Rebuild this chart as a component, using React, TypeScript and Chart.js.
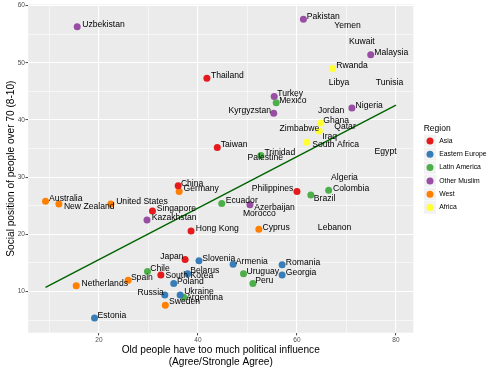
import React, { useEffect, useRef } from "react";
import { Chart, registerables } from "chart.js";

Chart.register(...registerables);

const FONT = '"Liberation Sans", Arial, sans-serif';

// ---- Data ----
const regions = ["Asia", "Eastern Europe", "Latin America", "Other Muslim", "West", "Africa"];
const regionColors = ["#E41A1C", "#377EB8", "#4DAF4A", "#984EA3", "#FF7F00", "#FFFF33"];

const asiaNames = ["Thailand", "Taiwan", "China", "Singapore", "Hong Kong", "Japan", "South Korea", "Philippines"];
const asiaX = [41.8, 43.9, 36.0, 30.8, 38.6, 37.4, 32.5, 60.0];
const asiaY = [47.3, 35.2, 28.5, 24.1, 20.6, 15.6, 12.9, 27.5];

const eeNames = ["Slovenia", "Armenia", "Belarus", "Poland", "Russia", "Ukraine", "Estonia", "Romania", "Georgia"];
const eeX = [40.2, 47.1, 37.9, 35.1, 33.3, 36.4, 19.1, 57.0, 57.0];
const eeY = [15.4, 14.8, 13.1, 11.4, 9.4, 9.4, 5.4, 14.7, 12.9];

const laNames = ["Mexico", "Trinidad", "Ecuador", "Colombia", "Brazil", "Chile", "Uruguay", "Peru", "Argentina"];
const laX = [55.8, 52.7, 44.8, 66.4, 62.8, 29.8, 49.2, 51.1, 37.1];
const laY = [43.0, 33.8, 25.4, 27.7, 26.9, 13.5, 13.1, 11.4, 9.0];

const omNames = ["Uzbekistan", "Pakistan", "Malaysia", "Turkey", "Kyrgyzstan", "Nigeria", "Kazakhstan", "Azerbaijan"];
const omX = [15.6, 61.3, 74.9, 55.4, 55.3, 71.1, 29.7, 50.5];
const omY = [56.3, 57.6, 51.4, 44.1, 41.2, 42.1, 22.5, 25.2];

const westNames = ["Germany", "Australia", "New Zealand", "United States", "Cyprus", "Spain", "Netherlands", "Sweden"];
const westX = [36.2, 9.2, 11.9, 22.4, 52.3, 25.9, 15.4, 33.4];
const westY = [27.5, 25.8, 25.3, 25.3, 20.9, 12.0, 11.0, 7.6];

const africaNames = ["Rwanda", "Ghana", "Zimbabwe", "South Africa"];
const africaX = [67.2, 64.8, 64.5, 62.0];
const africaY = [49.0, 39.5, 38.1, 36.1];

// countries without a region (label only, no point)
const naNames = ["Yemen", "Kuwait", "Libya", "Tunisia", "Jordan", "Qatar", "Iraq", "Egypt", "Palestine", "Algeria", "Morocco", "Lebanon"];
const naX = [70.2, 73.1, 68.5, 78.7, 66.9, 69.7, 66.6, 77.9, 53.6, 69.6, 52.4, 67.6];
const naY = [56.5, 53.7, 46.5, 46.5, 41.7, 38.9, 37.1, 34.4, 33.4, 29.9, 23.6, 21.2];

// fitted line
const fitX = [9.2, 80];
const fitY = [10.75, 42.6];

// tick values
const xTicks = [10, 20, 30, 40, 50, 60, 70, 80];
const yTicks = [5, 10, 15, 20, 25, 30, 35, 40, 45, 50, 55, 60];

const groups = [
  { names: asiaNames, xs: asiaX, ys: asiaY },
  { names: eeNames, xs: eeX, ys: eeY },
  { names: laNames, xs: laX, ys: laY },
  { names: omNames, xs: omX, ys: omY },
  { names: westNames, xs: westX, ys: westY },
  { names: africaNames, xs: africaX, ys: africaY },
];

// label placement (pixel nudges, style only)
const labelNudge: Record<string, [number, number, "left" | "right"]> = {
  "New Zealand": [5, 2.3, "left"],
  "United States": [5.3, -2.7, "left"],
  Uzbekistan: [5, -2.3, "left"],
  Thailand: [4, -2.7, "left"],
  Taiwan: [3.4, -2.7, "left"],
  China: [2.7, -1.7, "left"],
  Germany: [4.4, -2.7, "left"],
  Australia: [3.6, -2.7, "left"],
  Singapore: [4.4, -2.4, "left"],
  Kazakhstan: [4.7, -2.3, "left"],
  "Hong Kong": [4.7, -2.3, "left"],
  Ecuador: [4, -3, "left"],
  Azerbaijan: [4.3, 2.7, "left"],
  Philippines: [-3.7, -3, "right"],
  Brazil: [3, 3.3, "left"],
  Colombia: [4.3, -1.7, "left"],
  Cyprus: [3.6, -2, "left"],
  Turkey: [3, -3, "left"],
  Mexico: [3, -2.7, "left"],
  Kyrgyzstan: [-2.7, -2.7, "right"],
  Nigeria: [3.7, -2.4, "left"],
  Ghana: [2.6, -2.6, "left"],
  Zimbabwe: [0, -2.6, "right"],
  "South Africa": [5.3, 2.6, "left"],
  Trinidad: [3.6, -2.6, "left"],
  Japan: [-1.5, -2.6, "right"],
  Slovenia: [3.3, -2.4, "left"],
  Chile: [2.7, -2.7, "left"],
  "South Korea": [4.7, 1, "left"],
  Belarus: [2.6, -3, "left"],
  Spain: [2.7, -2.3, "left"],
  Poland: [3.3, -2.3, "left"],
  Netherlands: [5.4, -2.3, "left"],
  Russia: [-1, -2.7, "right"],
  Ukraine: [4, -3, "left"],
  Argentina: [2.5, 0, "left"],
  Sweden: [3.7, -3.3, "left"],
  Estonia: [3, -2.7, "left"],
  Armenia: [2.7, -2.7, "left"],
  Uruguay: [3, -2, "left"],
  Peru: [2.3, -2.7, "left"],
  Romania: [3.7, -2, "left"],
  Georgia: [3.7, -2, "left"],
  Pakistan: [3.4, -2.7, "left"],
  Malaysia: [3.6, -2.6, "left"],
  Rwanda: [3.6, -3, "left"],
};

const panelBg = {
  id: "panelBg",
  beforeDraw(chart: any) {
    const { ctx, chartArea: a } = chart;
    ctx.save();
    ctx.fillStyle = "#EBEBEB";
    ctx.fillRect(a.left, a.top, a.right - a.left, a.bottom - a.top);
    ctx.restore();
  },
};

const labelsPlugin = {
  id: "countryLabels",
  afterDatasetsDraw(chart: any) {
    const { ctx } = chart;
    const xs = chart.scales.x;
    const ys = chart.scales.y;
    ctx.save();
    ctx.font = `8.6px ${FONT}`;
    ctx.fillStyle = "#000000";
    ctx.textBaseline = "middle";
    groups.forEach((g) => {
      g.names.forEach((n, i) => {
        const px = xs.getPixelForValue(g.xs[i]);
        const py = ys.getPixelForValue(g.ys[i]);
        const nd = labelNudge[n] || [3.5, -2.5, "left"];
        ctx.textAlign = nd[2];
        ctx.fillText(n, px + nd[0], py + nd[1]);
      });
    });
    ctx.textAlign = "center";
    naNames.forEach((n, i) => {
      ctx.fillText(n, xs.getPixelForValue(naX[i]), ys.getPixelForValue(naY[i]));
    });
    ctx.restore();
  },
};

const legendPlugin = {
  id: "ggLegend",
  afterDraw(chart: any) {
    const { ctx, chartArea: a } = chart;
    const left = a.right + 10.4;
    const step = 13.3;
    const cyMid = (a.top + a.bottom) / 2;
    const firstKey = cyMid - 27.6;
    ctx.save();
    ctx.textBaseline = "middle";
    ctx.textAlign = "left";
    ctx.fillStyle = "#000000";
    ctx.font = `8.5px ${FONT}`;
    ctx.fillText("Region", left, firstKey - 12.7);
    ctx.font = `6.8px ${FONT}`;
    regions.forEach((r, i) => {
      const cy = firstKey + i * step;
      ctx.fillStyle = "#F2F2F2";
      ctx.fillRect(left + 0.3, cy - 6.3, 12, 12.6);
      ctx.beginPath();
      ctx.arc(left + 6.3, cy, 3.5, 0, Math.PI * 2);
      ctx.fillStyle = regionColors[i];
      ctx.fill();
      ctx.fillStyle = "#000000";
      ctx.fillText(r, left + 15.6, cy);
    });
    ctx.restore();
  },
};

export default function App() {
  const ref = useRef<HTMLCanvasElement | null>(null);

  useEffect(() => {
    if (!ref.current) return;
    const datasets: any[] = groups.map((g, gi) => ({
      type: "scatter",
      label: regions[gi],
      data: g.xs.map((x, i) => ({ x, y: g.ys[i] })),
      backgroundColor: regionColors[gi],
      borderColor: regionColors[gi],
      borderWidth: 0,
      pointRadius: 3.5,
      pointHoverRadius: 3.5,
      order: 1,
    }));
    datasets.push({
      type: "scatter",
      label: "na",
      data: naX.map((x, i) => ({ x, y: naY[i] })),
      pointRadius: 0,
      pointHoverRadius: 0,
      order: 3,
    });
    datasets.push({
      type: "line",
      label: "fit",
      data: fitX.map((x, i) => ({ x, y: fitY[i] })),
      borderColor: "#006400",
      borderWidth: 1.5,
      pointRadius: 0,
      fill: false,
      tension: 0,
      order: 2,
    });

    const chart = new Chart(ref.current, {
      type: "scatter",
      data: { datasets },
      options: {
        responsive: false,
        devicePixelRatio: 1,
        animation: false,
        layout: { padding: { left: 0, top: 3.85, right: 86.7, bottom: 0 } },
        plugins: { legend: { display: false }, tooltip: { enabled: false } },
        events: [],
        scales: {
          x: {
            type: "linear",
            min: 5.7,
            max: 83.5,
            afterBuildTicks: (s: any) => {
              s.ticks = xTicks.map((v) => ({ value: v }));
            },
            afterFit: (s: any) => {
              s.height = 37.3;
            },
            border: { display: false },
            grid: {
              color: "#FFFFFF",
              lineWidth: (c: any) => (c.tick && c.tick.value % 20 === 0 ? 1.1 : 0.55),
              drawTicks: true,
              tickLength: 2.7,
              tickWidth: 0.9,
              tickColor: (c: any) => (c.tick && c.tick.value % 20 === 0 ? "#333333" : "rgba(0,0,0,0)"),
            },
            ticks: {
              autoSkip: false,
              maxRotation: 0,
              padding: 1,
              color: "#4D4D4D",
              font: { family: FONT, size: 6.5 },
              callback: (v: any) => (Number(v) % 20 === 0 ? String(v) : ""),
            },
            title: {
              display: true,
              text: ["Old people have too much political influence", "(Agree/Strongle Agree)"],
              color: "#000000",
              font: { family: FONT, size: 10.15, lineHeight: 1.2 },
              padding: { top: 0, bottom: 2 },
            },
          },
          y: {
            type: "linear",
            min: 2.81,
            max: 60.2,
            afterBuildTicks: (s: any) => {
              s.ticks = yTicks.map((v) => ({ value: v }));
            },
            afterFit: (s: any) => {
              s.width = 28.2;
            },
            border: { display: false },
            grid: {
              color: "#FFFFFF",
              lineWidth: (c: any) => (c.tick && c.tick.value % 10 === 0 ? 1.1 : 0.55),
              drawTicks: true,
              tickLength: 2.7,
              tickWidth: 0.9,
              tickColor: (c: any) => (c.tick && c.tick.value % 10 === 0 ? "#333333" : "rgba(0,0,0,0)"),
            },
            ticks: {
              autoSkip: false,
              padding: 0.6,
              color: "#4D4D4D",
              font: { family: FONT, size: 6.5 },
              callback: (v: any) => (Number(v) % 10 === 0 ? String(v) : ""),
            },
            title: {
              display: true,
              text: "Social position of people over 70 (8-10)",
              color: "#000000",
              font: { family: FONT, size: 10.15, lineHeight: 1.2 },
              padding: { top: 4.7, bottom: 0 },
            },
          },
        },
      },
      plugins: [panelBg, labelsPlugin, legendPlugin],
    } as any);

    return () => chart.destroy();
  }, []);

  return (
    <div style={{ position: "absolute", left: 0, top: 0, width: 500, height: 370, background: "#FFFFFF" }}>
      <canvas ref={ref} width={500} height={370} style={{ display: "block", width: 500, height: 370 }} />
    </div>
  );
}
